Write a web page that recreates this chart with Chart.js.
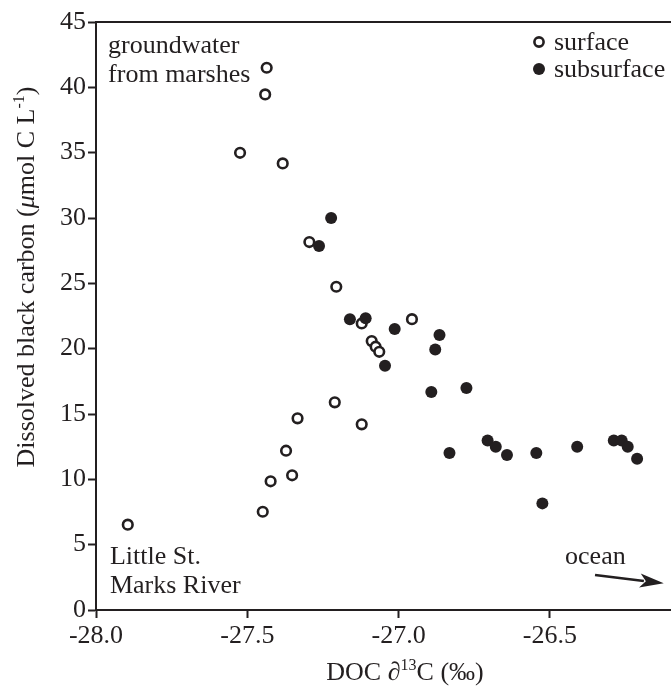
<!DOCTYPE html>
<html><head><meta charset="utf-8">
<script src="https://cdn.jsdelivr.net/npm/chart.js@4.4.1/dist/chart.umd.min.js"></script>
<style>html,body{margin:0;padding:0;background:#fff}#wrap{width:671px;height:687px}</style>
</head><body><div id="wrap"><canvas id="c" width="671" height="687"></canvas></div>
<script>
// ---- data ----
const surfaceX = [-27.436,-27.441,-27.524,-27.383,-27.295,-27.206,-27.122,-26.956,-27.089,-27.076,-27.064,-27.211,-27.334,-27.122,-27.372,-27.352,-27.423,-27.449,-27.895];
const surfaceY = [41.5,39.46,34.99,34.18,28.16,24.74,21.93,22.26,20.58,20.15,19.76,15.89,14.67,14.21,12.19,10.31,9.85,7.52,6.53];
const subsurfaceX = [-27.223,-27.263,-27.161,-27.109,-27.013,-26.865,-26.879,-27.045,-26.892,-26.776,-26.832,-26.706,-26.679,-26.642,-26.545,-26.525,-26.410,-26.289,-26.263,-26.243,-26.212];
const subsurfaceY = [30.0,27.85,22.26,22.32,21.5,21.04,19.94,18.69,16.68,16.99,12.01,12.98,12.5,11.86,12.01,8.16,12.5,12.98,12.98,12.5,11.58];
const xTicks = [-28.0,-27.5,-27.0,-26.5];
const yTicks = [0,5,10,15,20,25,30,35,40,45];
const seriesNames = ['surface','subsurface'];

const INK = '#231f20';
const FONT = "'Liberation Serif', 'Times New Roman', serif";

const toPts = (xs, ys) => xs.map((x,i)=>({x:x, y:ys[i]}));

// annotation text placed in data coordinates
const notes = [
  {t:'groundwater', x:-27.96, y:42.6},
  {t:'from marshes', x:-27.96, y:40.4},
  {t:'Little St.', x:-27.954, y:3.52},
  {t:'Marks River', x:-27.954, y:1.30},
  {t:'ocean', x:-26.450, y:3.52}
];
const arrow = {x0:-26.351, y0:2.68, x1:-26.124, y1:2.04};

function drawRich(ctx, parts, x, y, size){
  const supSize = Math.round(size*0.62);
  let total = 0;
  parts.forEach(p=>{
    ctx.font = (p.it?'italic ':'') + (p.sup?supSize:size) + 'px ' + FONT;
    p.w = ctx.measureText(p.t).width; total += p.w;
  });
  let cx = x - total/2;
  parts.forEach(p=>{
    ctx.font = (p.it?'italic ':'') + (p.sup?supSize:size) + 'px ' + FONT;
    ctx.fillText(p.t, cx, p.sup ? y - size*0.38 : y);
    cx += p.w;
  });
}

const decor = {
  id:'decor',
  afterDraw(chart){
    const ctx = chart.ctx, ca = chart.chartArea;
    const xs = chart.scales.x, ys = chart.scales.y;
    ctx.save();
    // top frame line
    ctx.strokeStyle = INK; ctx.lineWidth = 2;
    ctx.beginPath(); ctx.moveTo(ca.left-1, ca.top); ctx.lineTo(ca.right+2, ca.top); ctx.stroke();
    ctx.fillStyle = INK; ctx.textBaseline = 'alphabetic'; ctx.textAlign = 'left';
    ctx.font = '26px ' + FONT;
    notes.forEach(n=>ctx.fillText(n.t, xs.getPixelForValue(n.x), ys.getPixelForValue(n.y)));
    // arrow
    const ax0 = xs.getPixelForValue(arrow.x0), ay0 = ys.getPixelForValue(arrow.y0);
    const ax1 = xs.getPixelForValue(arrow.x1), ay1 = ys.getPixelForValue(arrow.y1);
    const ang = Math.atan2(ay1-ay0, ax1-ax0), hl = 24, hw = 7;
    const bx = ax1 - hl*Math.cos(ang), by = ay1 - hl*Math.sin(ang);
    ctx.lineWidth = 2.6;
    ctx.beginPath(); ctx.moveTo(ax0, ay0); ctx.lineTo(bx+4*Math.cos(ang), by+4*Math.sin(ang)); ctx.stroke();
    ctx.beginPath();
    ctx.moveTo(ax1, ay1);
    ctx.lineTo(bx - hw*Math.sin(ang), by + hw*Math.cos(ang));
    ctx.lineTo(bx + 6*Math.cos(ang), by + 6*Math.sin(ang));
    ctx.lineTo(bx + hw*Math.sin(ang), by - hw*Math.cos(ang));
    ctx.closePath(); ctx.fill();
    // legend
    const lx = ca.right - 132, ly1 = ca.top + 20, ly2 = ca.top + 47;
    ctx.lineWidth = 2.6;
    ctx.beginPath(); ctx.arc(lx, ly1, 4.6, 0, Math.PI*2); ctx.fillStyle='#fff'; ctx.fill(); ctx.stroke();
    ctx.fillStyle = INK;
    ctx.beginPath(); ctx.arc(lx, ly2, 6, 0, Math.PI*2); ctx.fill();
    ctx.font = '26px ' + FONT;
    ctx.fillText(seriesNames[0], lx+15, ly1+8);
    ctx.fillText(seriesNames[1], lx+15, ly2+8);
    // axis titles
    ctx.textAlign = 'left';
    drawRich(ctx, [{t:'DOC '},{t:'\u2202'},{t:'13',sup:true},{t:'C (\u2030)'}], 405, 680, 26);
    ctx.translate(34, 277); ctx.rotate(-Math.PI/2);
    drawRich(ctx, [{t:'Dissolved black carbon ('},{t:'\u03bc',it:true},{t:'mol C L'},{t:'-1',sup:true},{t:')'}], 0, 0, 26);
    ctx.restore();
  }
};

new Chart(document.getElementById('c'), {
  type:'scatter',
  data:{datasets:[
    {label:seriesNames[1], data:toPts(subsurfaceX, subsurfaceY), pointStyle:'circle', pointRadius:6, pointHoverRadius:6, backgroundColor:INK, borderColor:INK, borderWidth:0},
    {label:seriesNames[0], data:toPts(surfaceX, surfaceY), pointStyle:'circle', pointRadius:4.8, pointHoverRadius:4.8, backgroundColor:'#fff', borderColor:INK, borderWidth:2.6}
  ]},
  options:{
    responsive:false, animation:false, devicePixelRatio:1,
    layout:{autoPadding:false, padding:{top:22, right:0, left:0, bottom:0}},
    plugins:{legend:{display:false}, tooltip:{enabled:false}},
    scales:{
      x:{type:'linear', min:-28, max:-26.1,
        afterBuildTicks(s){ s.ticks = xTicks.map(v=>({value:v})); },
        afterFit(s){ s.height = 77; },
        ticks:{font:{family:FONT, size:26}, color:INK, padding:3, maxRotation:0, autoSkip:false, callback:v=>Number(v).toFixed(1)},
        grid:{drawOnChartArea:false, drawTicks:true, tickLength:8, tickWidth:2, color:INK},
        border:{display:true, width:2, color:INK}
      },
      y:{type:'linear', min:0, max:45,
        afterBuildTicks(s){ s.ticks = yTicks.map(v=>({value:v})); },
        afterFit(s){ s.width = 96; },
        ticks:{font:{family:FONT, size:26}, color:INK, padding:2, autoSkip:false, callback:v=>String(v)},
        grid:{drawOnChartArea:false, drawTicks:true, tickLength:8, tickWidth:2, color:INK},
        border:{display:true, width:2, color:INK}
      }
    }
  },
  plugins:[decor]
});
</script></body></html>
